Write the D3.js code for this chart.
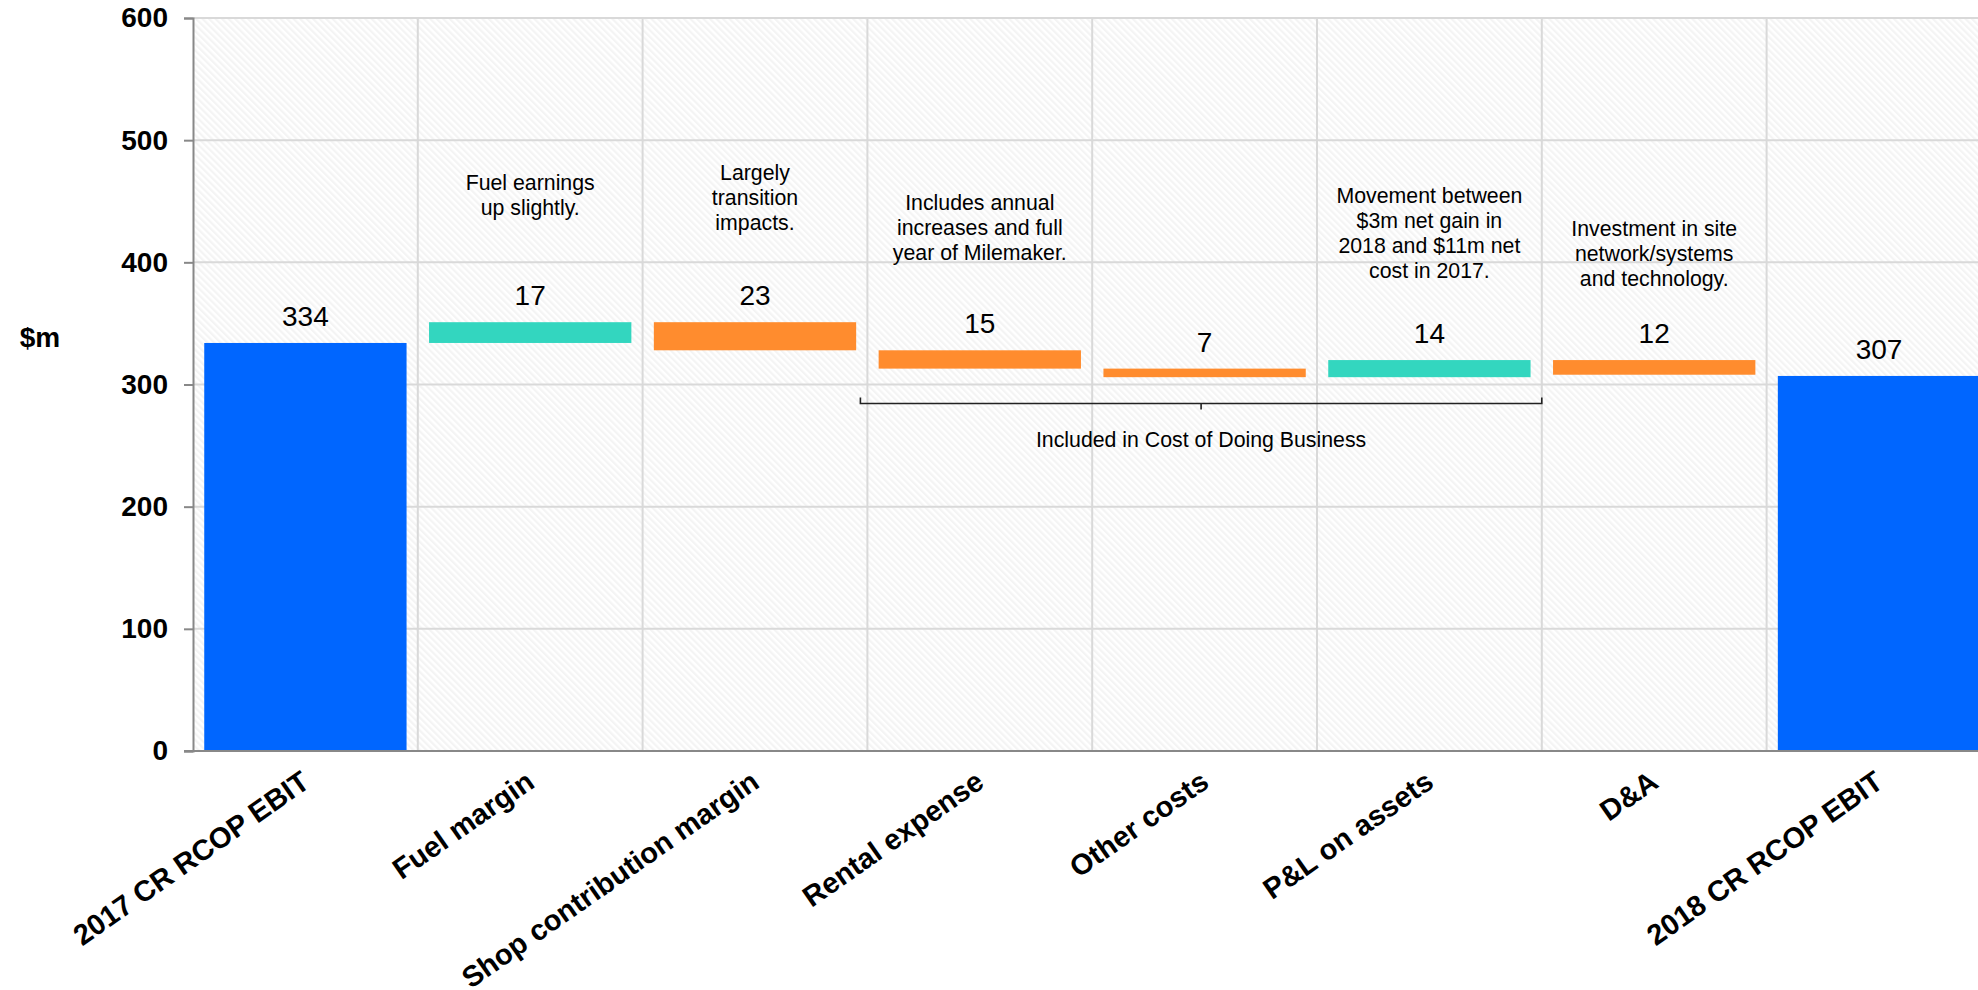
<!DOCTYPE html>
<html>
<head>
<meta charset="utf-8">
<script src="https://cdn.jsdelivr.net/npm/d3@7"></script>
<style>
  html, body { margin: 0; padding: 0; background: #fff; overflow: hidden; }
  svg { display: block; font-family: "Liberation Sans", Arial, sans-serif; }
</style>
</head>
<body>
<svg id="chart" width="1978" height="990"></svg>
<script>
// ---------------- data ----------------
const categories = ["2017 CR RCOP EBIT", "Fuel margin", "Shop contribution margin", "Rental expense",
                    "Other costs", "P&L on assets", "D&A", "2018 CR RCOP EBIT"];
const changes = [334, 17, -23, -15, -7, 14, -12, 307];
const barTypes = ["total", "increase", "decrease", "decrease", "decrease", "increase", "decrease", "total"];
const valueLabels = ["334", "17", "23", "15", "7", "14", "12", "307"];
const notes = [
  [],
  ["Fuel earnings", "up slightly."],
  ["Largely", "transition", "impacts."],
  ["Includes annual", "increases and full", "year of Milemaker."],
  [],
  ["Movement between", "$3m net gain in", "2018 and $11m net", "cost in 2017."],
  ["Investment in site", "network/systems", "and technology."],
  []
];
const yTicks = [0, 100, 200, 300, 400, 500, 600];
const yLabel = "$m";
const bracketLabel = "Included in Cost of Doing Business";
const bracketFrom = "Rental expense";
const bracketTo = "P&L on assets";

// ---------------- layout / style ----------------
const colors = { total: "#0066ff", increase: "#33d6bf", decrease: "#ff8c2e" };
const noteTop = [0, 190, 180, 210, 0, 203, 236, 0]; // first-line baselines (px)
const x0 = 193, step = 224.8, yTop = 18, yBottom = 751;

const svg = d3.select("#chart");

const x = d3.scaleBand()
  .domain(categories)
  .range([x0, x0 + step * categories.length])
  .paddingInner(0.1)
  .paddingOuter(0.05);
const y = d3.scaleLinear().domain([0, 600]).range([yBottom, yTop]);

// compute waterfall segments
let run = 0;
const bars = categories.map((c, i) => {
  let lo, hi;
  if (barTypes[i] === "total") { lo = 0; hi = changes[i]; run = changes[i]; }
  else { const a = run, b = run + changes[i]; lo = Math.min(a, b); hi = Math.max(a, b); run = b; }
  return { cat: c, lo, hi, type: barTypes[i], label: valueLabels[i], note: notes[i], noteY: noteTop[i] };
});

// hatch background pattern
const defs = svg.append("defs");
const pat = defs.append("pattern")
  .attr("id", "hatch")
  .attr("patternUnits", "userSpaceOnUse")
  .attr("width", 4.6).attr("height", 4.6)
  .attr("patternTransform", "rotate(-45)");
pat.append("rect").attr("width", 4.6).attr("height", 4.6).attr("fill", "#ffffff");
pat.append("rect").attr("width", 2.2).attr("height", 4.6).attr("fill", "#f4f4f4");

svg.append("rect")
  .attr("x", x0).attr("y", yTop)
  .attr("width", step * categories.length).attr("height", yBottom - yTop)
  .attr("fill", "url(#hatch)");

// horizontal grid
svg.append("g")
  .selectAll("line").data(yTicks.filter(d => d > 0)).join("line")
  .attr("x1", x0).attr("x2", x0 + step * categories.length)
  .attr("y1", d => y(d)).attr("y2", d => y(d))
  .attr("stroke", "#d9d9d9").attr("stroke-width", 2);

// vertical grid at category boundaries
const bounds = categories.slice(1).map(c => x(c) - x.step() * x.paddingInner() / 2);
svg.append("g")
  .selectAll("line").data(bounds).join("line")
  .attr("x1", d => d).attr("x2", d => d)
  .attr("y1", yTop).attr("y2", yBottom)
  .attr("stroke", "#d9d9d9").attr("stroke-width", 2);

// bars
svg.append("g")
  .selectAll("rect").data(bars).join("rect")
  .attr("x", d => x(d.cat))
  .attr("width", x.bandwidth())
  .attr("y", d => y(d.hi))
  .attr("height", d => y(d.lo) - y(d.hi))
  .attr("fill", d => colors[d.type]);

// value labels
svg.append("g")
  .selectAll("text").data(bars).join("text")
  .attr("x", d => x(d.cat) + x.bandwidth() / 2)
  .attr("y", d => y(d.hi) - 17)
  .attr("text-anchor", "middle")
  .attr("font-size", 28)
  .attr("fill", "#000")
  .text(d => d.label);

// annotation notes
const noteG = svg.append("g");
bars.forEach(d => {
  if (!d.note.length) return;
  const t = noteG.append("text")
    .attr("x", x(d.cat) + x.bandwidth() / 2)
    .attr("y", d.noteY)
    .attr("text-anchor", "middle")
    .attr("font-size", 21.3)
    .attr("fill", "#000");
  d.note.forEach((line, k) => {
    t.append("tspan")
      .attr("x", x(d.cat) + x.bandwidth() / 2)
      .attr("dy", k === 0 ? 0 : 25)
      .text(line);
  });
});

// bracket
const bL = x(bracketFrom) - x.step() * x.paddingInner() / 2 - 7;
const bR = x(bracketTo) + x.bandwidth() + x.step() * x.paddingInner() / 2;
const bY = 403.5, bMid = (bL + bR) / 2;
svg.append("path")
  .attr("d", `M${bL},${bY - 6}V${bY}H${bR}V${bY - 6}M${bMid},${bY}V${bY + 6}`)
  .attr("fill", "none").attr("stroke", "#222").attr("stroke-width", 1.6);
svg.append("text")
  .attr("x", bMid).attr("y", 447)
  .attr("text-anchor", "middle")
  .attr("font-size", 21.3)
  .attr("fill", "#000")
  .text(bracketLabel);

// y axis
const yAxis = d3.axisLeft(y).tickValues(yTicks).tickSize(9).tickPadding(16);
const gy = svg.append("g").attr("transform", `translate(${x0},0)`).call(yAxis);
gy.select(".domain").attr("stroke", "#888").attr("stroke-width", 2);
gy.selectAll(".tick line").attr("stroke", "#888").attr("stroke-width", 2);
gy.selectAll(".tick text")
  .attr("font-family", "'Liberation Sans', Arial, sans-serif")
  .attr("font-size", 28).attr("font-weight", "bold").attr("fill", "#000");

// x axis
const xAxis = d3.axisBottom(x).tickSize(0).tickPadding(0);
const gx = svg.append("g").attr("transform", `translate(0,${yBottom})`).call(xAxis);
gx.select(".domain").remove();
gx.append("line")
  .attr("x1", x0 - 9).attr("x2", x0 + step * categories.length)
  .attr("y1", 0).attr("y2", 0)
  .attr("stroke", "#888").attr("stroke-width", 2);
gx.selectAll(".tick text")
  .attr("font-family", "'Liberation Sans', Arial, sans-serif")
  .attr("font-size", 29).attr("font-weight", "bold").attr("fill", "#000")
  .attr("text-anchor", "end")
  .attr("dy", 0)
  .attr("transform", "translate(6,35) rotate(-35)");

// y label
svg.append("text")
  .attr("x", 40).attr("y", 347)
  .attr("text-anchor", "middle")
  .attr("font-size", 28).attr("font-weight", "bold")
  .attr("fill", "#000")
  .text(yLabel);
</script>
</body>
</html>
